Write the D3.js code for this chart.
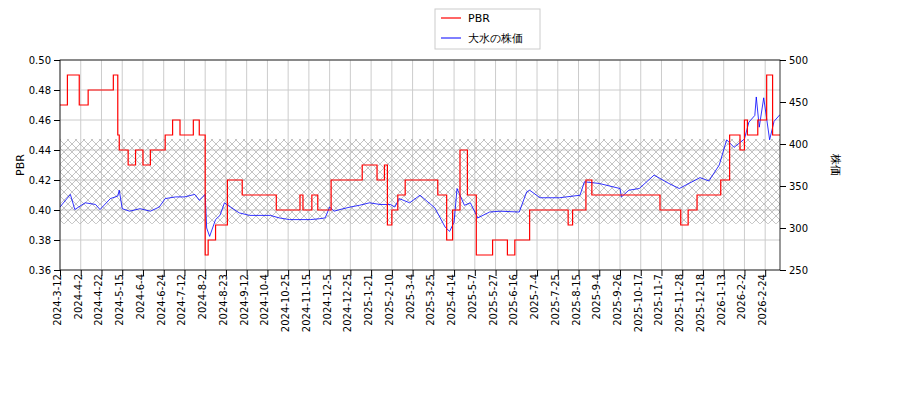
<!DOCTYPE html>
<html><head><meta charset="utf-8">
<script src="https://cdn.jsdelivr.net/npm/d3@7"></script>
<style>body{margin:0;background:#fff}text{font-family:"DejaVu Sans",sans-serif}</style>
</head><body><svg id="c" width="900" height="400"></svg>
<script>
const tickLabels=["2024-3-12","2024-4-2","2024-4-22","2024-5-15","2024-6-4","2024-6-24","2024-7-12","2024-8-2","2024-8-23","2024-9-12","2024-10-4","2024-10-25","2024-11-15","2024-12-5","2024-12-25","2025-1-21","2025-2-10","2025-3-4","2025-3-25","2025-4-14","2025-5-7","2025-5-27","2025-6-16","2025-7-4","2025-7-25","2025-8-15","2025-9-4","2025-9-26","2025-10-17","2025-11-7","2025-11-28","2025-12-18","2026-1-13","2026-2-2","2026-2-24"];
const pbrIdx=[0,5,13,19,36,39,40,46,51,56,61,71,76,81,90,94,98,100,105,113,123,146,162,164,170,174,183,204,214,219,221,224,228,233,255,261,265,270,275,281,292,302,307,317,343,346,355,359,405,419,424,430,446,452,459,462,464,471,477,481,486];
const pbrVal=[0.47,0.49,0.47,0.48,0.49,0.45,0.44,0.43,0.44,0.43,0.44,0.45,0.46,0.45,0.46,0.45,0.37,0.38,0.39,0.42,0.41,0.40,0.41,0.40,0.41,0.40,0.42,0.43,0.42,0.43,0.39,0.40,0.41,0.42,0.41,0.38,0.40,0.44,0.41,0.37,0.38,0.37,0.38,0.40,0.39,0.40,0.42,0.41,0.40,0.39,0.40,0.41,0.42,0.45,0.44,0.46,0.45,0.46,0.49,0.45,0.45];
const priceIdx=[0,7,10,17,24,27,34,39,40,42,47,54,61,67,71,78,84,91,94,98,99,101,105,108,111,115,121,128,135,142,148,155,162,169,175,179,182,185,189,196,202,209,216,223,226,229,236,243,253,260,263,266,268,273,277,282,290,297,310,315,317,324,337,351,354,364,378,379,384,391,401,411,418,432,438,445,450,455,462,465,469,470,472,475,479,482,486];
const priceVal=[325,340,322,330,328,322,335,338,345,323,320,323,320,325,335,337,337,340,333,340,300,290,310,315,330,325,318,315,315,315,312,310,310,310,311,312,325,320,322,325,327,330,328,328,325,335,330,339,324,301,296,307,347,327,330,312,319,320,319,343,345,336,336,339,355,353,347,337,345,347,363,353,347,360,356,375,405,396,406,426,434,456,420,455,405,427,435];
const bandLo=305, bandHi=406;

const svg=d3.select("#c");
const L=60,R=780,T=60,B=270;
const x=d3.scaleLinear().domain([0,486]).range([L,R]);
const yL=d3.scaleLinear().domain([0.36,0.50]).range([B,T]);
const yR=d3.scaleLinear().domain([250,500]).range([B,T]);
const defs=svg.append("defs");
const p=defs.append("pattern").attr("id","h").attr("patternUnits","userSpaceOnUse").attr("width",8).attr("height",8);
p.append("path").attr("d","M0,0L8,8M8,0L0,8").attr("stroke","#aaa").attr("stroke-width",0.7);
defs.append("clipPath").attr("id","cl").append("rect").attr("x",L).attr("y",T).attr("width",R-L).attr("height",B-T);
const g=svg.append("g");
const tickIdx=tickLabels.map((d,i)=>i*14);
g.selectAll(".vx").data(tickIdx).join("line").attr("x1",d=>x(d)).attr("x2",d=>x(d)).attr("y1",T).attr("y2",B).attr("stroke","#ccc");
g.selectAll(".hy").data(d3.range(0.36,0.5001,0.02)).join("line").attr("x1",L).attr("x2",R).attr("y1",d=>yL(d)).attr("y2",d=>yL(d)).attr("stroke","#ccc");
g.append("rect").attr("x",L).attr("width",R-L).attr("y",yR(bandHi)).attr("height",yR(bandLo)-yR(bandHi)).attr("fill","url(#h)").attr("stroke","none");
const cg=svg.append("g").attr("clip-path","url(#cl)");
cg.append("path").datum(priceIdx.map((d,i)=>[d,priceVal[i]])).attr("fill","none").attr("stroke","blue").attr("stroke-width",0.8)
 .attr("d",d3.line().x(d=>x(d[0])).y(d=>yR(d[1])));
cg.append("path").datum(pbrIdx.map((d,i)=>[d,pbrVal[i]])).attr("fill","none").attr("stroke","red").attr("stroke-width",1.2)
 .attr("d",d3.line().curve(d3.curveStepAfter).x(d=>x(d[0])).y(d=>yL(d[1])));
svg.append("rect").attr("x",L).attr("y",T).attr("width",R-L).attr("height",B-T).attr("fill","none").attr("stroke","#000").attr("stroke-width",0.8);
const ax=svg.append("g").attr("transform",`translate(0,${B})`).call(d3.axisBottom(x).tickValues(tickIdx).tickFormat((d,i)=>tickLabels[i]).tickSizeOuter(0));
ax.selectAll("text").attr("transform","rotate(-90)").attr("x",-4).attr("y",-3).attr("dy","0.35em").style("text-anchor","end").style("font-size","10px");
svg.append("g").attr("transform",`translate(${L},0)`).call(d3.axisLeft(yL).tickValues(d3.range(0.36,0.5001,0.02)).tickFormat(d3.format(".2f")).tickSizeOuter(0)).selectAll("text").style("font-size","10px");
svg.append("g").attr("transform",`translate(${R},0)`).call(d3.axisRight(yR).tickValues([250,300,350,400,450,500]).tickSizeOuter(0)).selectAll("text").style("font-size","10px");
svg.selectAll(".domain").remove();
svg.append("text").attr("transform","translate(24,165) rotate(-90)").attr("text-anchor","middle").style("font-size","11px").text("PBR");
svg.append("text").attr("transform","translate(832,165) rotate(90)").attr("text-anchor","middle").style("font-size","11px").text("株価");
const lg=svg.append("g");
lg.append("rect").attr("x",435).attr("y",9).attr("width",105).attr("height",40).attr("fill","#fff").attr("stroke","#ccc");
lg.append("line").attr("x1",441).attr("x2",461).attr("y1",18).attr("y2",18).attr("stroke","red").attr("stroke-width",1.2);
lg.append("text").attr("x",468).attr("y",22).style("font-size","11px").text("PBR");
lg.append("line").attr("x1",441).attr("x2",461).attr("y1",38).attr("y2",38).attr("stroke","blue");
lg.append("text").attr("x",468).attr("y",42).style("font-size","11px").text("大水の株価");
</script></body></html>
